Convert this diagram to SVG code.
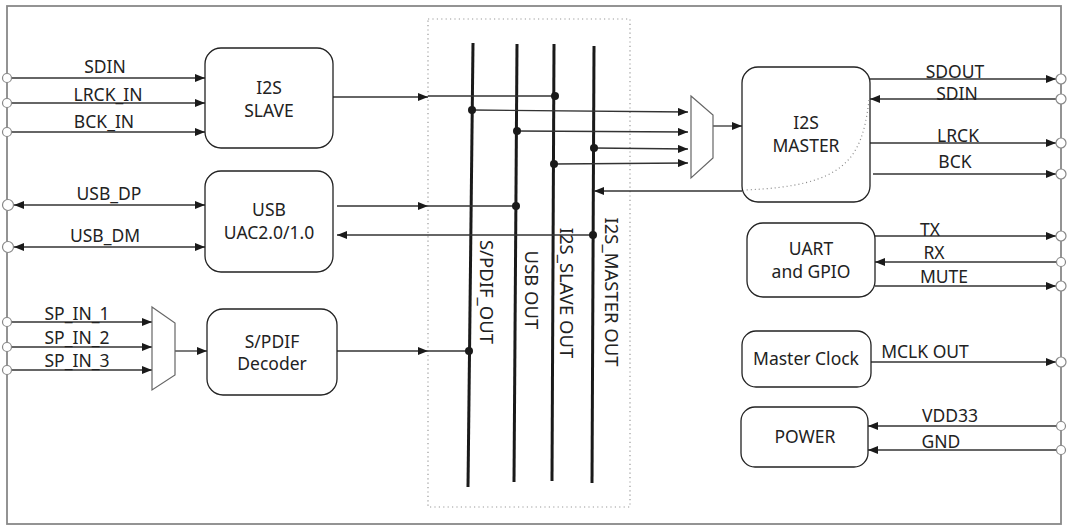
<svg xmlns="http://www.w3.org/2000/svg" width="1069" height="532" viewBox="0 0 1069 532">
<defs>
<marker id="arr" viewBox="0 0 10 8" refX="10" refY="4" markerWidth="10" markerHeight="8" markerUnits="userSpaceOnUse" orient="auto-start-reverse">
<path d="M0,0 L10,4 L0,8 z" fill="#1a1a1a"/>
</marker>
<style>
.t{font-family:"Noto Sans","Liberation Sans",sans-serif;font-size:17.5px;fill:#222;text-anchor:middle}
.v{font-size:18.5px}
.box{fill:#fff;stroke:#222;stroke-width:1.3}
.w{fill:none;stroke:#333;stroke-width:1.3}
.bus{fill:none;stroke:#1a1a1a;stroke-width:3}
.pin{fill:#fff;stroke:#888;stroke-width:1.2}
.dot{fill:#1a1a1a}
.mux{fill:#fff;stroke:#666;stroke-width:1.2}
</style>
</defs>
<rect width="1069" height="532" fill="#fff"/>
<rect x="7" y="6" width="1054" height="518" fill="none" stroke="#888" stroke-width="1.8"/>
<rect x="428" y="19" width="202" height="488" fill="none" stroke="#999" stroke-width="1.2" stroke-dasharray="1.2,3.2"/>

<g id="buses">
<line class="bus" x1="473" y1="43" x2="468" y2="487"/>
<line class="bus" x1="517" y1="44" x2="514" y2="482"/>
<line class="bus" x1="554" y1="44" x2="552" y2="481"/>
<line class="bus" x1="594" y1="46" x2="592" y2="483"/>
<text class="t v" transform="translate(480,292) rotate(90)">S/PDIF_OUT</text>
<text class="t v" transform="translate(525,290) rotate(90)">USB OUT</text>
<text class="t v" transform="translate(560,293) rotate(90)">I2S_SLAVE OUT</text>
<text class="t v" transform="translate(605,292) rotate(90)">I2S_MASTER OUT</text>
</g>

<g id="connectors">
<line class="w" x1="11" y1="78" x2="205" y2="78" marker-end="url(#arr)"/>
<line class="w" x1="11" y1="103" x2="205" y2="103" marker-end="url(#arr)"/>
<line class="w" x1="11" y1="132" x2="205" y2="132" marker-end="url(#arr)"/>
<line class="w" x1="14" y1="205" x2="205" y2="205" marker-start="url(#arr)" marker-end="url(#arr)"/>
<line class="w" x1="14" y1="247" x2="205" y2="247" marker-start="url(#arr)" marker-end="url(#arr)"/>
<line class="w" x1="11" y1="322" x2="152" y2="322" marker-end="url(#arr)"/>
<line class="w" x1="11" y1="347" x2="152" y2="347" marker-end="url(#arr)"/>
<line class="w" x1="11" y1="370" x2="152" y2="370" marker-end="url(#arr)"/>
<line class="w" x1="175" y1="351" x2="207" y2="351" marker-end="url(#arr)"/>
<line class="w" x1="333" y1="97" x2="428" y2="97" marker-end="url(#arr)"/>
<line class="w" x1="428" y1="96" x2="555" y2="96"/>
<line class="w" x1="337" y1="206" x2="428" y2="206" marker-end="url(#arr)"/>
<line class="w" x1="428" y1="206" x2="516" y2="206"/>
<line class="w" x1="593" y1="235" x2="337" y2="235" marker-end="url(#arr)"/>
<line class="w" x1="337" y1="351" x2="428" y2="351" marker-end="url(#arr)"/>
<line class="w" x1="428" y1="351" x2="469" y2="351"/>
<line class="w" x1="472" y1="110" x2="688" y2="112" marker-end="url(#arr)"/>
<line class="w" x1="517" y1="131" x2="688" y2="132" marker-end="url(#arr)"/>
<line class="w" x1="594" y1="148" x2="688" y2="149" marker-end="url(#arr)"/>
<line class="w" x1="554" y1="164" x2="688" y2="163" marker-end="url(#arr)"/>
<line class="w" x1="713" y1="126" x2="742" y2="126" marker-end="url(#arr)"/>
<line class="w" x1="742" y1="191" x2="594" y2="191" marker-end="url(#arr)"/>
<line class="w" x1="870" y1="79" x2="1056" y2="79" marker-end="url(#arr)"/>
<line class="w" x1="1056" y1="99" x2="870" y2="99" marker-end="url(#arr)"/>
<line class="w" x1="870" y1="143" x2="1056" y2="143" marker-end="url(#arr)"/>
<line class="w" x1="873" y1="174" x2="1056" y2="174" marker-end="url(#arr)"/>
<line class="w" x1="875" y1="236" x2="1056" y2="236" marker-end="url(#arr)"/>
<line class="w" x1="1056" y1="262" x2="875" y2="262" marker-end="url(#arr)"/>
<line class="w" x1="875" y1="286" x2="1056" y2="286" marker-end="url(#arr)"/>
<line class="w" x1="871" y1="362" x2="1056" y2="362" marker-end="url(#arr)"/>
<line class="w" x1="1056" y1="426" x2="868" y2="426" marker-end="url(#arr)"/>
<line class="w" x1="1056" y1="450" x2="868" y2="450" marker-end="url(#arr)"/>
<circle class="dot" cx="555" cy="96" r="4"/>
<circle class="dot" cx="472" cy="110" r="4"/>
<circle class="dot" cx="517" cy="131" r="4"/>
<circle class="dot" cx="594" cy="148" r="4"/>
<circle class="dot" cx="554" cy="164" r="4"/>
<circle class="dot" cx="516" cy="206" r="4"/>
<circle class="dot" cx="593" cy="235" r="4"/>
<circle class="dot" cx="469" cy="351" r="4"/>
</g>

<g id="labels">
<text class="t" x="105" y="73">SDIN</text>
<text class="t" x="108" y="101">LRCK_IN</text>
<text class="t" x="104" y="128">BCK_IN</text>
<text class="t" x="109" y="200">USB_DP</text>
<text class="t" x="105" y="242">USB_DM</text>
<text class="t" x="77" y="320">SP_IN_1</text>
<text class="t" x="77" y="344">SP_IN_2</text>
<text class="t" x="77" y="367">SP_IN_3</text>
<text class="t" x="955" y="78">SDOUT</text>
<text class="t" x="957" y="100">SDIN</text>
<text class="t" x="958" y="142">LRCK</text>
<text class="t" x="955" y="168">BCK</text>
<text class="t" x="930" y="236">TX</text>
<text class="t" x="934" y="259">RX</text>
<text class="t" x="944" y="283">MUTE</text>
<text class="t" x="925" y="358">MCLK OUT</text>
<text class="t" x="950" y="422">VDD33</text>
<text class="t" x="941" y="448">GND</text>
</g>

<g id="pins">
<circle class="pin" cx="7" cy="78" r="4.5"/>
<circle class="pin" cx="7" cy="103" r="4.5"/>
<circle class="pin" cx="7" cy="132" r="4.5"/>
<circle class="pin" cx="8" cy="205" r="5.5"/>
<circle class="pin" cx="8" cy="247" r="5.5"/>
<circle class="pin" cx="7" cy="322" r="4.5"/>
<circle class="pin" cx="7" cy="347" r="4.5"/>
<circle class="pin" cx="7" cy="370" r="4.5"/>
<circle class="pin" cx="1061" cy="79" r="5"/>
<circle class="pin" cx="1061" cy="99" r="5"/>
<circle class="pin" cx="1061" cy="143" r="5"/>
<circle class="pin" cx="1061" cy="174" r="5"/>
<circle class="pin" cx="1061" cy="236" r="5"/>
<circle class="pin" cx="1061" cy="262" r="4.5"/>
<circle class="pin" cx="1061" cy="286" r="5"/>
<circle class="pin" cx="1061" cy="362" r="5"/>
<circle class="pin" cx="1061" cy="426" r="4.5"/>
<circle class="pin" cx="1061" cy="450" r="4.5"/>
</g>

<g id="i2s-slave">
<rect class="box" x="205" y="48" width="128" height="100" rx="16"/>
<text class="t" x="269" y="94">I2S</text>
<text class="t" x="269" y="117">SLAVE</text>
</g>
<g id="usb">
<rect class="box" x="205" y="171" width="128" height="101" rx="16"/>
<text class="t" x="269" y="216">USB</text>
<text class="t" x="269" y="239">UAC2.0/1.0</text>
</g>
<g id="spdif-mux">
<polygon class="mux" points="152,307 175,323 175,375 152,390"/>
</g>
<g id="spdif-decoder">
<rect class="box" x="207" y="309" width="130" height="86" rx="16"/>
<text class="t" x="272" y="348">S/PDIF</text>
<text class="t" x="272" y="370">Decoder</text>
</g>
<g id="master-mux">
<polygon class="mux" points="691,96 713,115 713,158 691,178"/>
</g>
<g id="i2s-master">
<rect class="box" x="742" y="67" width="128" height="135" rx="16"/>
<path d="M869,100 C862,160 845,186 745,190" fill="none" stroke="#888" stroke-width="1.2" stroke-dasharray="1,3"/>
<text class="t" x="806" y="129">I2S</text>
<text class="t" x="806" y="152">MASTER</text>
</g>
<g id="uart">
<rect class="box" x="747" y="223" width="128" height="74" rx="16"/>
<text class="t" x="811" y="255">UART</text>
<text class="t" x="811" y="278">and GPIO</text>
</g>
<g id="master-clock">
<rect class="box" x="742" y="331" width="129" height="56" rx="14"/>
<text class="t" x="806" y="365">Master Clock</text>
</g>
<g id="power">
<rect class="box" x="741" y="407" width="127" height="60" rx="14"/>
<text class="t" x="805" y="443">POWER</text>
</g>
</svg>
